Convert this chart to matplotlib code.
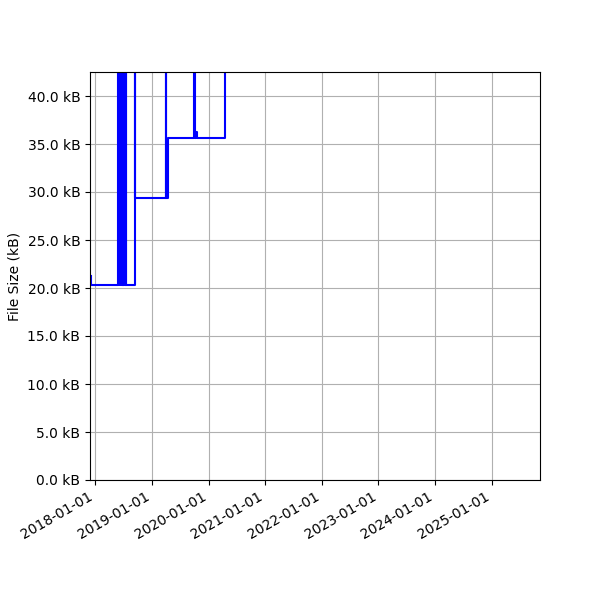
import matplotlib
matplotlib.use('Agg')
import matplotlib.pyplot as plt
import matplotlib.dates as mdates
from matplotlib.ticker import FuncFormatter
import numpy as np

# change points of the file size history (bytes)
dates = ['2017-12-03', '2017-12-06',
         '2018-05-28', '2018-05-30', '2018-06-01', '2018-06-03',
         '2018-06-05', '2018-06-07', '2018-06-09', '2018-06-11',
         '2018-06-13', '2018-06-15', '2018-06-17', '2018-06-19',
         '2018-06-21', '2018-06-23', '2018-06-25', '2018-06-27',
         '2018-06-29', '2018-07-01', '2018-07-03', '2018-07-05',
         '2018-07-07', '2018-07-09', '2018-07-11', '2018-07-13',
         '2018-07-15', '2018-07-17',
         '2018-09-13', '2018-09-15', '2019-03-31', '2019-04-02',
         '2019-04-15', '2019-09-30', '2019-10-03', '2019-10-14',
         '2019-10-18', '2020-04-16', '2025-11-08']
sizes = [21200, 20300,
         60000, 20300, 60000, 20300,
         60000, 25000, 60000, 25000,
         60000, 20300, 60000, 20300,
         60000, 20300, 60000, 20300,
         60000, 20300, 60000, 20300,
         60000, 20300, 60000, 20300,
         60000, 20300,
         60000, 29400, 60000, 29400,
         35600, 60000, 35600, 36300,
         35600, 80000, 80000]

t = np.array(dates, dtype='datetime64[D]')

fig, ax = plt.subplots(figsize=(6, 6), dpi=100)
ax.plot(t, sizes, color='blue', drawstyle='steps-post')

ax.set_ylim(0, 42500)
ax.set_xlim(np.datetime64('2017-11-27'), np.datetime64('2025-11-08'))
ax.yaxis.set_major_formatter(FuncFormatter(lambda v, p: f'{v / 1000:.1f} kB'))
ax.xaxis.set_major_locator(mdates.YearLocator())
ax.xaxis.set_major_formatter(mdates.DateFormatter('%Y-%m-%d'))
ax.set_ylabel('File Size (kB)')
ax.grid(True)

fig.autofmt_xdate()
fig.subplots_adjust(left=0.15, bottom=0.2)
fig.savefig('out.png')
